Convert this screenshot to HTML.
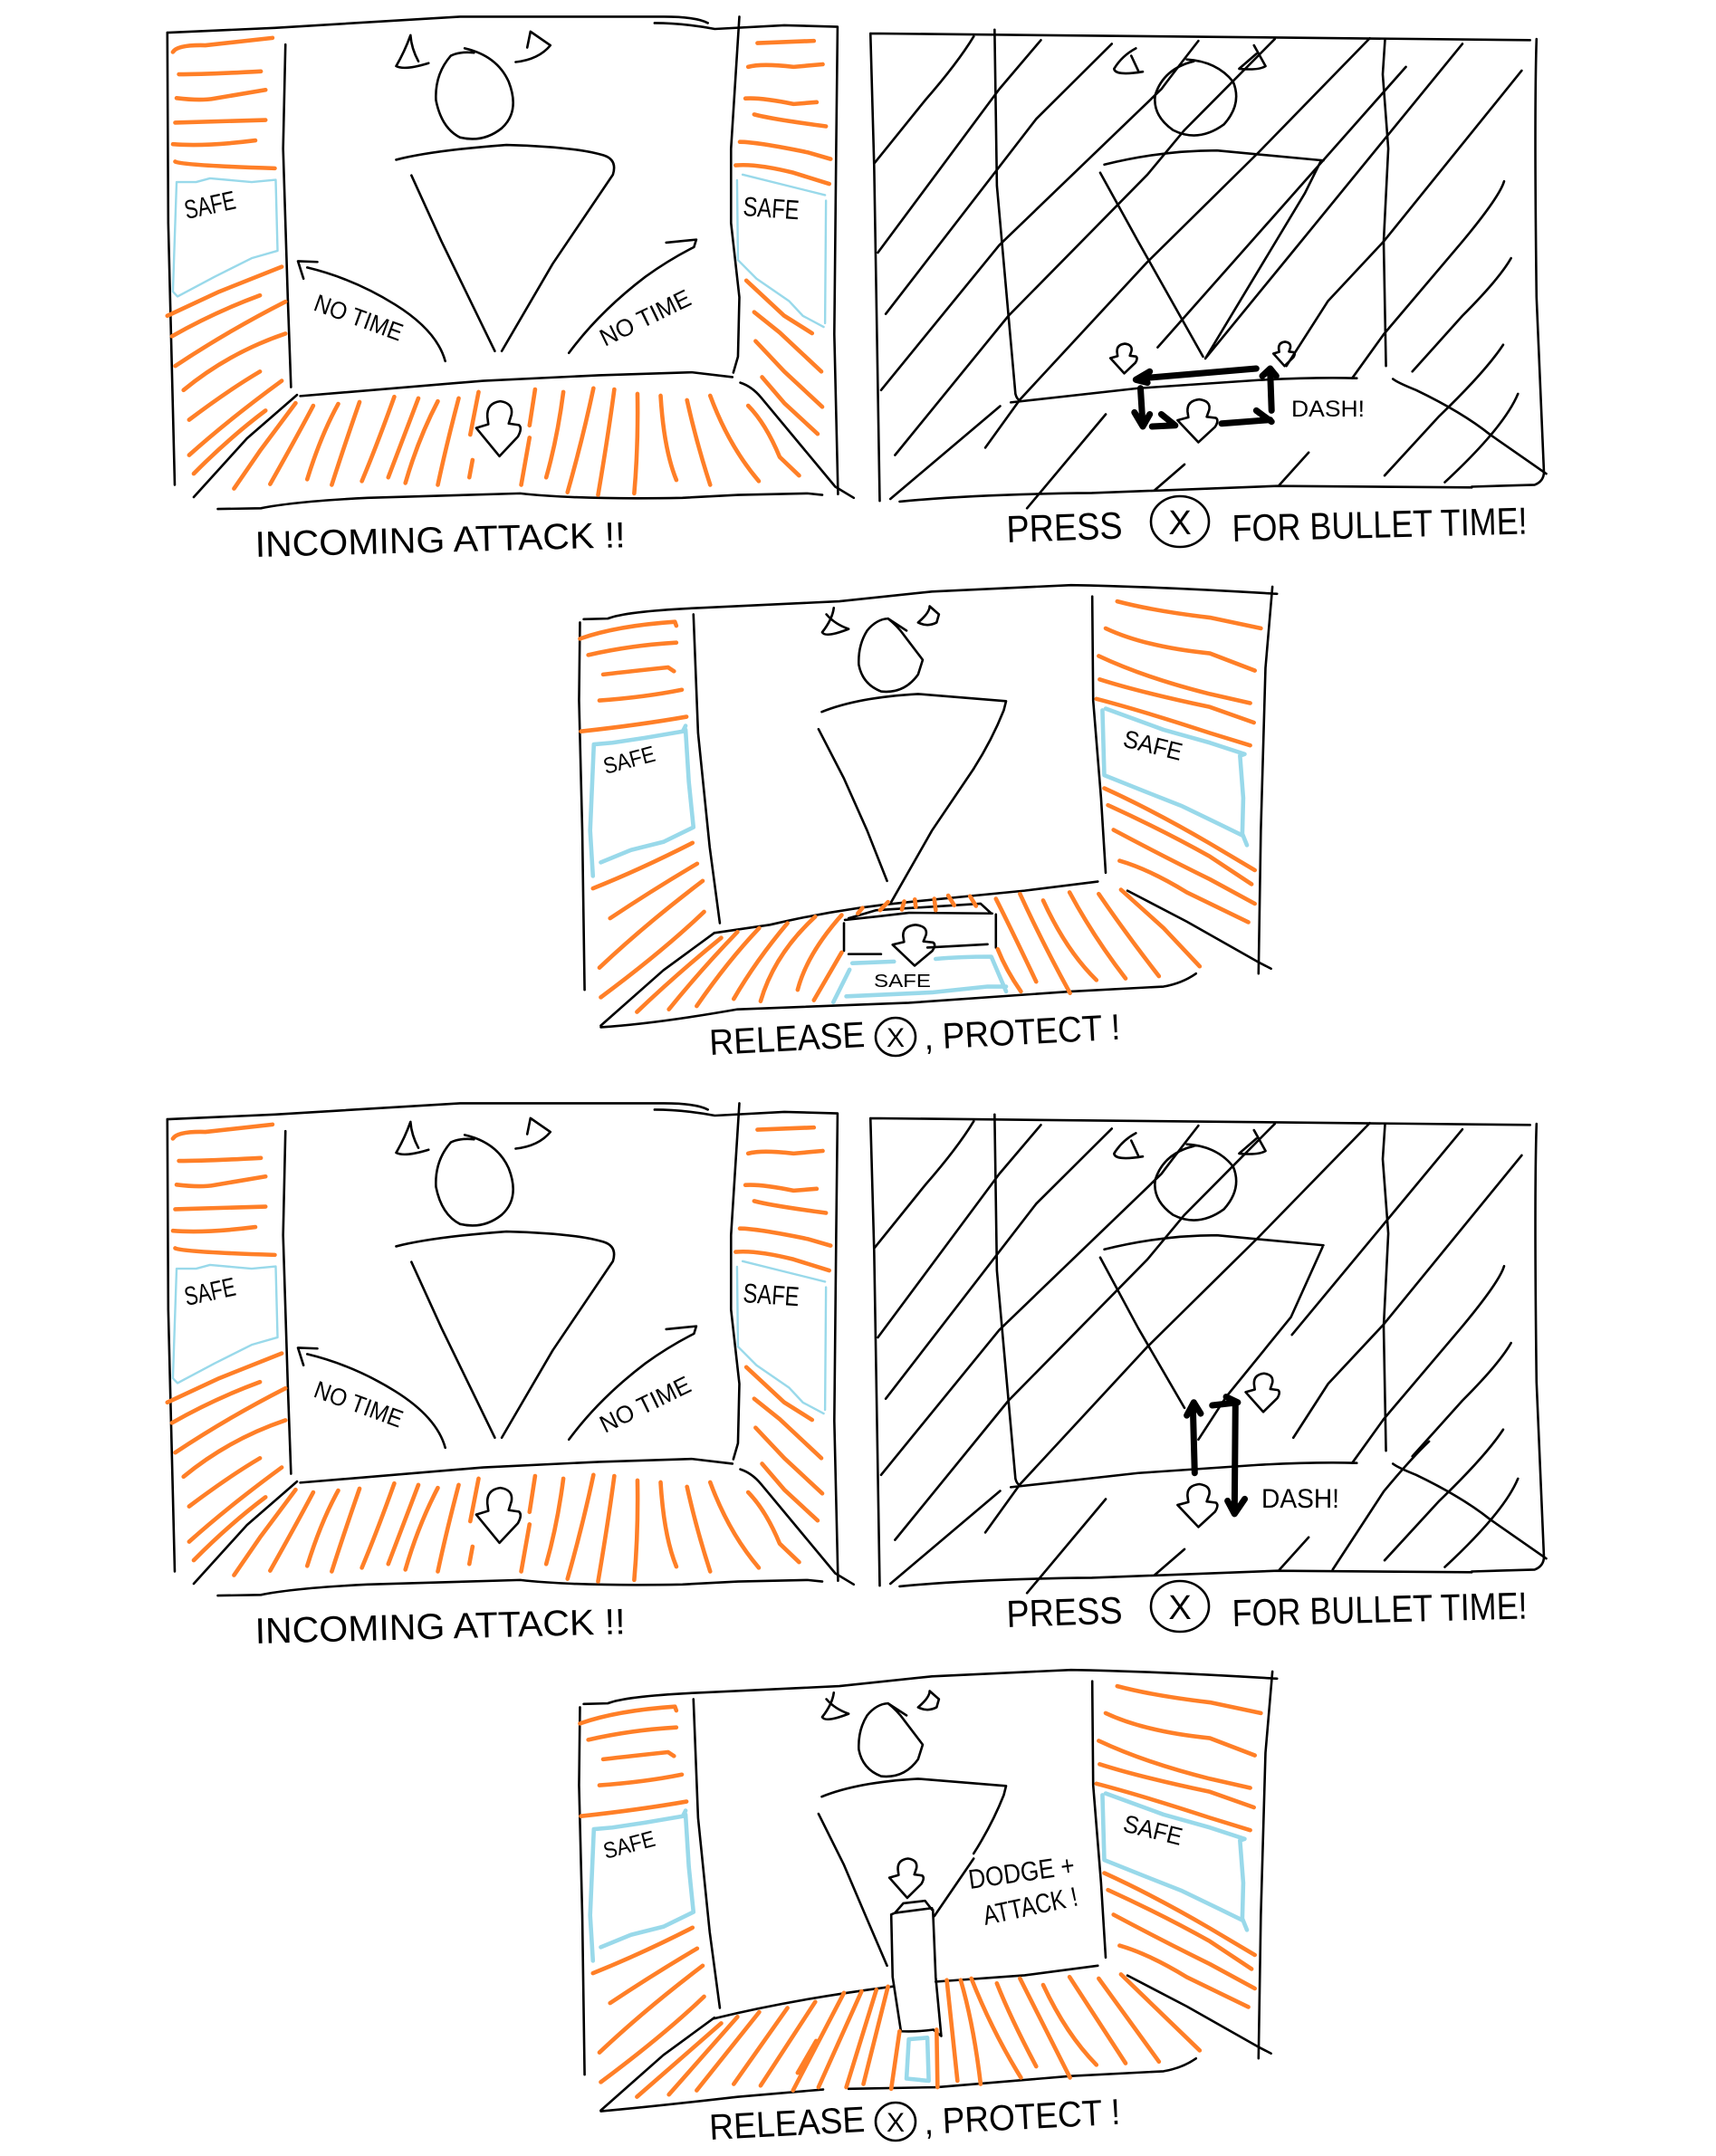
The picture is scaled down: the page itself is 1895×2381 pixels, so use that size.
<!DOCTYPE html>
<html><head><meta charset="utf-8"><title>Bullet time storyboard</title>
<style>
html,body{margin:0;padding:0;background:#fff}
svg{display:block}
path,ellipse{fill:none;vector-effect:non-scaling-stroke;stroke-linecap:round;stroke-linejoin:round}
#da{stroke:#000;stroke-width:2.6}
.k path{stroke:#000;stroke-width:2.6}
.o path{stroke:#ff7f27;stroke-width:4.6}
.b path{stroke:#99d9ea;stroke-width:2.4}
.B path{stroke:#99d9ea;stroke-width:4.6}
.h path{stroke:#000;stroke-width:7}
ellipse{stroke:#000;stroke-width:2.6}
text{font-family:"Liberation Sans",sans-serif;fill:#000}
</style></head><body>
<svg xmlns="http://www.w3.org/2000/svg" width="1895" height="2381" viewBox="0 0 1895 2381">
<rect width="1895" height="2381" fill="#fff"/>
<defs>
<path id="da" d="M26 62L24 42Q22 5 52 0Q80 5 76 36L70 60L92 64Q100 72 90 95L50 148L0 72L26 62"/>

<g id="A">
 <g class="k">
  <path d="M68 88L300 75L700 45L1140 45Q1210 45 1235 62M1120 62Q1180 62 1250 78L1400 68L1515 72L1512 400L1508 900L1516 1330"/>
  <path d="M68 88L70 600L80 1100L84 1305M323 120L318 400L328 800L335 1042M1303 45L1285 400L1285 600L1303 800L1300 960L1290 1003"/>
  <path d="M355 1066L750 1025L1000 1010L1200 1002L1288 1015M348 1063L240 1180L125 1338M1305 1030Q1330 1040 1350 1070L1450 1220L1510 1310L1550 1340"/>
  <path d="M177 1370L270 1368Q340 1350 500 1340L830 1328Q950 1345 1180 1340L1300 1332L1450 1328L1482 1332"/>
  <path d="M710 130Q780 150 805 220Q830 300 790 345Q750 385 700 370Q660 345 648 270Q645 200 680 150Q700 138 730 142"/>
  <path d="M593 95Q580 140 562 178Q580 190 632 170M593 95Q595 130 610 165M845 128L852 85L895 122Q870 160 820 167"/>
  <path d="M562 430Q640 405 800 390Q950 395 1010 418Q1040 430 1030 470L900 710L790 945M595 472L660 650L775 945"/>
  <path d="M668 972Q650 890 560 820Q470 750 370 720M362 750L350 703L392 705"/>
  <path d="M935 950Q1000 840 1100 745Q1150 700 1205 665L1210 645L1145 653"/>
  <use href="#da" transform="translate(735,1080)"/>
 </g>
 <g class="o">
  <path d="M80 140Q90 120 150 122L295 102M93 200Q150 200 270 192M88 264Q140 272 170 265L280 242M85 330L280 323M80 388Q150 395 258 378M85 435Q100 445 300 453"/>
  <path d="M68 850L180 785L315 718M78 905Q170 840 268 795M85 985Q200 890 323 812M103 1050Q200 950 323 898M115 1130Q200 1050 268 1000M115 1225Q200 1130 315 1025M125 1275Q200 1180 280 1105"/>
  <path d="M1342 116L1464 110M1322 180Q1350 170 1420 180L1483 173M1316 265Q1350 262 1420 280L1470 275M1335 308Q1370 320 1490 340M1304 382Q1340 382 1450 410L1500 428M1295 445Q1340 440 1420 465L1497 495"/>
  <path d="M1318 755L1400 850L1460 897M1335 840L1390 895L1480 1000M1338 918L1400 1000L1482 1095M1352 1015L1400 1085L1472 1168"/>
  <path d="M345 1085L270 1210L212 1315M383 1092Q350 1170 290 1303M437 1087Q400 1170 370 1290M483 1082Q450 1200 423 1305M558 1068Q520 1200 488 1295M610 1072Q580 1170 545 1285M652 1080Q610 1180 582 1300M697 1072Q670 1200 652 1305"/>
  <path d="M740 1055L722 1170M727 1238L720 1285M862 1048L850 1145M850 1178L832 1305M923 1055Q910 1180 886 1285M988 1045Q965 1180 932 1325M1033 1048Q1020 1170 998 1332M1083 1060Q1085 1200 1076 1328"/>
  <path d="M1133 1065Q1140 1210 1167 1292M1190 1077Q1210 1190 1240 1305M1240 1065Q1280 1200 1345 1295M1322 1092Q1360 1140 1390 1230L1432 1280"/>
 </g>
 <g class="b">
  <path d="M88 490L130 490L160 480L250 490L302 484L306 675L250 695L170 745L90 798L80 785L88 490"/>
  <path d="M1310 470L1488 525M1298 485L1300 700L1340 750L1410 810L1440 850L1485 880M1490 540L1488 870"/>
 </g>
</g>

<g id="Bbase" class="k">
 <path d="M22 90L1446 108M22 90L30 450L42 1348M1460 105Q1455 300 1460 800L1476 1270Q1476 1295 1456 1305L1320 1310"/>
 <path d="M85 1350Q250 1330 500 1327L900 1308L1320 1312"/>
 <path d="M290 80L295 500L320 850L335 1060Q338 1075 345 1078M325 1083L600 1045L860 1023Q980 1015 1072 1018M1133 105L1128 200L1140 400L1130 650L1135 985"/>
 <path d="M1150 1020Q1160 1030 1200 1050Q1300 1110 1360 1170L1481 1275"/>
 <path d="M705 160Q770 165 805 220Q825 280 785 335Q730 385 675 350Q630 310 637 255Q655 185 720 165"/>
 <path d="M595 130Q565 150 548 185Q550 205 610 193M585 150L600 190M850 122L875 178Q860 190 818 185L855 145"/>
 <path d="M527 443Q650 405 770 405L1000 432"/>
 <path d="M245 98Q210 170 140 270L30 440M390 108L300 240L38 680M543 118L380 320L55 845M730 110Q680 190 650 240L300 660L45 1050M895 105L700 350L620 470L320 850L75 1225M1100 103L860 410L620 705L345 1075L270 1205"/>
 <path d="M1390 488Q1380 530 1300 650L1130 900L1062 1018M1405 695Q1380 750 1300 850L1192 1000M1388 928Q1350 1000 1250 1120L1132 1280M1420 1060Q1390 1150 1262 1298M968 1218L905 1305M700 1250L635 1320M530 1115L360 1368M302 1093L65 1343"/>
</g>

<g id="Cbase">
 <g class="k">
  <path d="M48 150L100 148Q140 125 300 115L600 95L800 65L1100 45Q1300 50 1545 72M40 160L38 400L45 800L50 1290M1535 50L1520 300L1510 800L1505 1240"/>
  <path d="M285 135L295 500L320 850L342 1085M1146 80L1148 400L1165 700L1175 930M1222 985L1350 1080L1505 1205L1532 1225M330 1115L220 1230L85 1400"/>
  <path d="M705 148Q680 150 660 185Q640 230 642 290Q650 350 690 372Q740 380 770 320L780 275L740 200Q725 170 705 148L745 185"/>
  <path d="M588 115Q585 150 563 190Q570 208 620 180Q590 165 572 135M795 110L815 135L810 160Q790 175 770 160Q795 130 795 110"/>
  <path d="M562 435Q640 390 770 380L960 402L955 430Q930 520 890 610"/>
 </g>
 <g class="o">
  <path d="M40 210Q120 170 245 158L248 170M58 260Q150 230 248 222M90 320Q150 310 230 298L243 310M82 400Q180 390 260 367M42 495Q170 475 270 450"/>
  <path d="M68 978Q170 920 283 838M105 1070Q200 980 293 902M82 1222Q180 1090 305 955M85 1313Q220 1170 308 1050"/>
  <path d="M1200 95Q1280 125 1400 145L1510 178M1175 178Q1260 235 1400 255L1497 308M1160 263Q1260 330 1400 380L1487 408M1162 335Q1250 375 1400 420L1495 468M1155 395Q1250 430 1400 500L1487 538"/>
  <path d="M1172 670Q1280 740 1400 840L1497 922M1180 722Q1300 800 1400 880L1490 965M1192 798Q1300 880 1400 950L1497 1025M1205 893Q1270 920 1350 990L1483 1082"/>
 </g>
 <g class="B">
  <path d="M268 478L262 495L180 515L110 530L70 535L65 700L62 800L68 940M268 490L275 650L285 790L220 835L150 860L85 898"/>
  <path d="M1175 425L1300 490L1400 530L1475 565L1465 570L1472 700L1470 810L1480 845M1168 430L1172 630L1260 680L1340 725L1420 780L1470 815"/>
 </g>
</g>
</defs>

<!-- Panel 1 -->
<use href="#A" transform="translate(150,0) scale(.5115,.4103)"/>
<text x="206" y="242" font-size="29" textLength="57" lengthAdjust="spacingAndGlyphs" transform="rotate(-12 206 242)">SAFE</text>
<text x="820" y="238" font-size="30" textLength="62" lengthAdjust="spacingAndGlyphs" transform="rotate(4 820 238)">SAFE</text>
<text x="345" y="342" font-size="27" textLength="102" lengthAdjust="spacingAndGlyphs" transform="rotate(20 345 342)">NO TIME</text>
<text x="668" y="383" font-size="27" textLength="108" lengthAdjust="spacingAndGlyphs" transform="rotate(-26 668 383)">NO TIME</text>
<text x="282" y="615" font-size="40" textLength="409" lengthAdjust="spacingAndGlyphs" transform="rotate(-1.5 282 615)">INCOMING ATTACK !!</text>

<!-- Panel 2 -->
<use href="#Bbase" transform="translate(950,0) scale(.5115,.4103)"/>
<g transform="translate(950,0) scale(.5115,.4103)">
 <g class="k">
  <path d="M518 465L600 650L740 960M995 432L960 520L745 965M1178 180L887 590L642 935M1300 118L932 680L745 965M1428 190L1130 650L1010 810L920 985"/>
  <use href="#da" transform="translate(540,925) scale(.6,.54)"/>
  <use href="#da" transform="translate(892,920) scale(.48,.44)"/>
  <use href="#da" transform="translate(685,1075) scale(.9,.78)"/>
 </g>
 <g class="h">
  <path d="M855 992L610 1018M625 1000L595 1022L620 1030M605 1045L610 1145M592 1110L610 1148L625 1115M630 1148L680 1145M650 1115L680 1145M780 1140L885 1130M855 1105L888 1135M888 1105L885 1000M868 1012L885 992L898 1012"/>
 </g>
</g>
<text x="1426" y="460" font-size="25" textLength="81" lengthAdjust="spacingAndGlyphs">DASH!</text>
<text x="1112" y="599" font-size="42" textLength="128" lengthAdjust="spacingAndGlyphs" transform="rotate(-2 1112 599)">PRESS</text>
<ellipse cx="1303" cy="576" rx="32" ry="28"/>
<text x="1303" y="590" font-size="38" text-anchor="middle">X</text>
<text x="1361" y="598" font-size="42" textLength="326" lengthAdjust="spacingAndGlyphs" transform="rotate(-1.5 1361 598)">FOR BULLET TIME!</text>

<!-- Panel 3 -->
<use href="#Cbase" transform="translate(620,630) scale(.5115,.359)"/>
<g transform="translate(620,630) scale(.5115,.359)">
 <g class="k">
  <path d="M330 1115L450 1090Q600 1040 750 1020L1000 985L1158 957M85 1405Q200 1395 380 1350L750 1330L1100 1295L1300 1280Q1340 1270 1370 1240"/>
  <path d="M890 610L800 800L712 1020M555 488L610 640L660 800L703 955"/>
  <path d="M610 1085L610 1170M938 1058L938 1160M620 1180L690 1180M790 1160L920 1150M612 1075Q680 1065 750 1053L930 1055M620 1070L680 1045L905 1025L928 1055"/>
  <use href="#da" transform="translate(715,1090) scale(.95,.85)"/>
 </g>
 <g class="o">
  <path d="M163 1358Q250 1240 345 1130M232 1350Q300 1230 380 1112M292 1340Q360 1200 427 1100M372 1318Q420 1200 488 1085M430 1325Q460 1180 548 1065M510 1290Q530 1180 605 1060M545 1322L605 1175"/>
  <path d="M640 1055L650 1038M688 1045L705 1020M735 1043L740 1018M765 1035L763 1012M808 1045L805 1010M848 1030L835 1000M895 1032L882 1002"/>
  <path d="M938 1010Q970 1100 1025 1265M990 995Q1040 1150 1098 1300M1040 1015Q1090 1170 1155 1260M1097 990Q1150 1130 1218 1255M1160 995Q1220 1120 1290 1248M1208 982L1300 1100L1378 1218M942 1165Q960 1230 992 1295"/>
 </g>
 <g class="B">
  <path d="M628 1208L718 1203M808 1195Q860 1188 928 1188L960 1295M622 1228L587 1328M615 1310L800 1298L920 1280L960 1280"/>
 </g>
</g>
<text x="669" y="855" font-size="25" textLength="58" lengthAdjust="spacingAndGlyphs" transform="rotate(-15 669 855)">SAFE</text>
<text x="1239" y="824" font-size="27" textLength="66" lengthAdjust="spacingAndGlyphs" transform="rotate(14 1239 824)">SAFE</text>
<text x="965" y="1090" font-size="20" textLength="63" lengthAdjust="spacingAndGlyphs">SAFE</text>
<text x="784" y="1165" font-size="40" textLength="172" lengthAdjust="spacingAndGlyphs" transform="rotate(-3 784 1165)">RELEASE</text>
<ellipse cx="989" cy="1145" rx="22" ry="21"/>
<text x="989" y="1156" font-size="30" text-anchor="middle">X</text>
<text x="1021" y="1159" font-size="40" textLength="217" lengthAdjust="spacingAndGlyphs" transform="rotate(-3 1021 1159)">, PROTECT !</text>

<!-- Panel 4 -->
<use href="#A" transform="translate(150,1200) scale(.5115,.4103)"/>
<text x="206" y="1442" font-size="29" textLength="57" lengthAdjust="spacingAndGlyphs" transform="rotate(-12 206 1442)">SAFE</text>
<text x="820" y="1438" font-size="30" textLength="62" lengthAdjust="spacingAndGlyphs" transform="rotate(4 820 1438)">SAFE</text>
<text x="345" y="1542" font-size="27" textLength="102" lengthAdjust="spacingAndGlyphs" transform="rotate(20 345 1542)">NO TIME</text>
<text x="668" y="1583" font-size="27" textLength="108" lengthAdjust="spacingAndGlyphs" transform="rotate(-26 668 1583)">NO TIME</text>
<text x="282" y="1815" font-size="40" textLength="409" lengthAdjust="spacingAndGlyphs" transform="rotate(-1.5 282 1815)">INCOMING ATTACK !!</text>

<!-- Panel 5 -->
<use href="#Bbase" transform="translate(950,1198) scale(.5115,.4103)"/>
<g transform="translate(950,1200) scale(.5115,.4103)">
 <g class="k">
  <path d="M518 460L600 650L700 865M998 432L930 620L790 835L730 950M1300 115L932 668M1428 185L1130 640L1010 800L935 945M1228 955Q1190 1000 1130 1090L1020 1300"/>
  <use href="#da" transform="translate(832,772) scale(.76,.7)"/>
  <use href="#da" transform="translate(685,1070) scale(.9,.78)"/>
 </g>
 <g class="h">
  <path d="M722 1040L718 855M705 885L720 850L735 880M810 850L808 1150M793 1115L808 1150L830 1110M760 858L815 850M790 835L815 850"/>
 </g>
</g>
<text x="1393" y="1665" font-size="30" textLength="86" lengthAdjust="spacingAndGlyphs">DASH!</text>
<text x="1112" y="1797" font-size="42" textLength="128" lengthAdjust="spacingAndGlyphs" transform="rotate(-2 1112 1797)">PRESS</text>
<ellipse cx="1303" cy="1774" rx="32" ry="28"/>
<text x="1303" y="1788" font-size="38" text-anchor="middle">X</text>
<text x="1361" y="1796" font-size="42" textLength="326" lengthAdjust="spacingAndGlyphs" transform="rotate(-1.5 1361 1796)">FOR BULLET TIME!</text>

<!-- Panel 6 -->
<use href="#Cbase" transform="translate(620,1828) scale(.5115,.359)"/>
<g transform="translate(620,1830) scale(.5115,.3532)">
 <g class="k">
  <path d="M330 1130Q500 1070 715 1030M808 1015L1000 995L1158 965M85 1420Q200 1405 380 1375L565 1352M620 1350L810 1345L1100 1310L1300 1295Q1340 1285 1370 1255"/>
  <path d="M890 630L805 810M555 490L610 650L660 820L703 965"/>
  <path d="M712 805L720 800L738 770L785 762L800 790M720 800L800 785M712 805L715 1000L733 1170Q770 1172 803 1165L820 1185M802 790L808 1000L820 1185"/>
  <use href="#da" transform="translate(708,630) scale(.77,.83)"/>
 </g>
 <g class="o">
  <path d="M163 1375L345 1145M232 1368L380 1125M292 1355L427 1110M372 1335L488 1097M430 1340L548 1078M500 1355L610 1050M510 1300L550 1200M555 1345L648 1045M615 1345L680 1040M652 1335L705 1030M712 1350L730 1170M810 1165L812 1345"/>
  <path d="M832 1010L855 1325M862 1010Q890 1150 905 1335M885 1005Q930 1170 992 1315M940 1020Q970 1130 1025 1280M990 1005L1098 1315M1040 1025Q1090 1180 1155 1275M1097 1000L1218 1270M1160 1005L1290 1265M1208 992L1378 1230"/>
 </g>
 <g class="B"><path d="M750 1195L790 1190L793 1325L745 1318Z"/></g>
</g>
<text x="669" y="2053" font-size="25" textLength="58" lengthAdjust="spacingAndGlyphs" transform="rotate(-15 669 2053)">SAFE</text>
<text x="1239" y="2022" font-size="27" textLength="66" lengthAdjust="spacingAndGlyphs" transform="rotate(14 1239 2022)">SAFE</text>
<text x="1071" y="2086" font-size="30" textLength="118" lengthAdjust="spacingAndGlyphs" transform="rotate(-8 1071 2086)">DODGE +</text>
<text x="1088" y="2126" font-size="30" textLength="106" lengthAdjust="spacingAndGlyphs" transform="rotate(-12 1088 2126)">ATTACK !</text>
<text x="784" y="2363" font-size="40" textLength="172" lengthAdjust="spacingAndGlyphs" transform="rotate(-3 784 2363)">RELEASE</text>
<ellipse cx="989" cy="2343" rx="22" ry="21"/>
<text x="989" y="2354" font-size="30" text-anchor="middle">X</text>
<text x="1021" y="2357" font-size="40" textLength="217" lengthAdjust="spacingAndGlyphs" transform="rotate(-3 1021 2357)">, PROTECT !</text>
</svg>
</body></html>
